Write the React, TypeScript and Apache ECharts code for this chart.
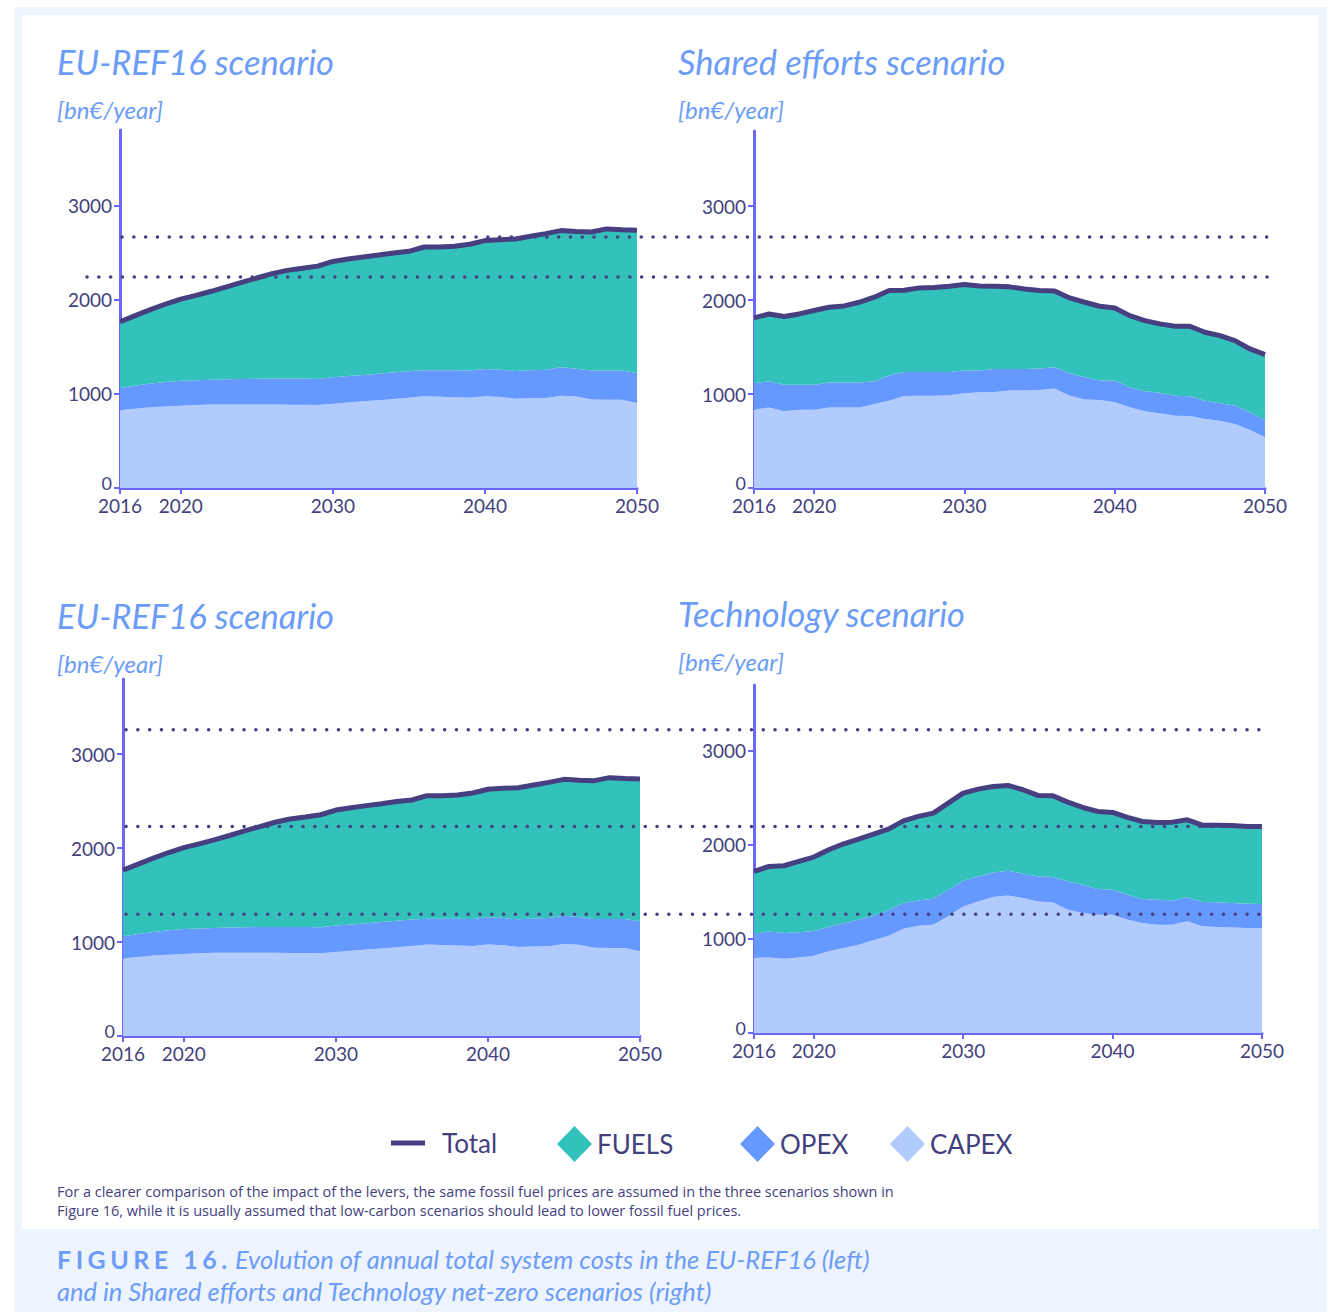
import React, { useEffect, useRef } from "react";
import * as echarts from "echarts";

const years = ["2016","2017","2018","2019","2020","2021","2022","2023","2024","2025","2026","2027","2028","2029","2030","2031","2032","2033","2034","2035","2036","2037","2038","2039","2040","2041","2042","2043","2044","2045","2046","2047","2048","2049","2050"];
const tickYears = ["2016", "2020", "2030", "2040", "2050"];
const yTicks = [0, 1000, 2000, 3000];

// EU-REF16 scenario
const refCapex = [824,840,856,866,874,880,885,885,885,885,885,884,883,881,895,908,920,932,945,958,973,968,962,959,973,966,948,952,955,980,970,940,938,938,902];
const refOpex = [238,245,252,259,265,265,265,269,272,275,276,277,278,276,280,280,280,282,283,282,276,281,287,287,290,289,294,298,301,301,297,306,308,308,319];
const refFuels = [703,745,785,828,866,900,938,980,1026,1069,1114,1149,1171,1198,1230,1242,1252,1259,1267,1272,1309,1309,1316,1341,1363,1381,1401,1422,1444,1451,1455,1472,1504,1496,1514];
const refTotal = [1765,1830,1893,1953,2005,2045,2088,2134,2183,2229,2275,2310,2332,2355,2405,2430,2452,2473,2495,2512,2558,2558,2565,2587,2626,2636,2643,2672,2700,2732,2722,2718,2750,2742,2735];

// Shared efforts scenario
const sharedCapex = [834,856,816,834,834,856,856,856,895,930,980,983,983,987,1008,1019,1022,1037,1037,1044,1058,983,941,937,912,859,816,795,770,767,735,717,682,618,540];
const sharedOpex = [281,280,284,266,266,266,266,266,241,270,255,252,252,248,242,231,245,230,230,227,227,238,237,206,231,213,213,220,213,209,195,185,195,188,184];
const sharedFuels = [695,717,725,753,789,802,816,855,895,902,870,895,898,913,915,901,881,874,852,831,813,802,799,792,774,763,753,732,739,746,728,720,692,674,696];
const sharedTotal = [1810,1853,1825,1853,1889,1924,1938,1977,2031,2102,2105,2130,2133,2148,2165,2151,2148,2141,2119,2102,2098,2023,1977,1935,1917,1835,1782,1747,1722,1722,1658,1622,1569,1480,1420];

// Technology scenario
const techCapex = [797,804,790,804,822,868,903,939,985,1034,1109,1141,1151,1240,1346,1399,1445,1463,1435,1399,1389,1311,1275,1258,1258,1204,1169,1151,1151,1187,1134,1126,1123,1116,1116];
const techOpex = [259,276,273,266,262,258,266,265,262,270,273,269,277,283,273,266,262,262,258,266,269,301,301,272,265,266,255,266,259,255,258,263,259,258,255];
const techFuels = [662,691,715,754,786,822,843,858,868,864,874,893,910,921,931,928,914,907,893,861,864,843,822,826,822,822,825,822,832,825,818,821,825,822,825];
const techTotal = [1718,1771,1778,1824,1870,1948,2012,2062,2115,2168,2256,2303,2338,2444,2550,2593,2621,2632,2586,2526,2522,2455,2398,2356,2345,2292,2249,2239,2242,2267,2210,2210,2207,2196,2196];

// Dotted reference levels [bn€/year]
const topRefLevels = [2665, 2240];
const bottomRefLevels = [3260, 2230, 1295];

const panelTitles = ["EU-REF16 scenario", "Shared efforts scenario", "EU-REF16 scenario", "Technology scenario"];
const unitLabel = "[bn€/year]";
const seriesNames = ["CAPEX", "OPEX", "FUELS", "Total"];
const footnoteLines = [
  "For a clearer comparison of the impact of the levers, the same fossil fuel prices are assumed in the three scenarios shown in",
  "Figure 16, while it is usually assumed that low-carbon scenarios should lead to lower fossil fuel prices.",
];
const captionLabel = "FIGURE 16.";
const captionLines = [
  "Evolution of annual total system costs in the EU-REF16 (left)",
  "and in Shared efforts and Technology net-zero scenarios (right)",
];

const C_CAPEX = "#b1cbfd";
const C_OPEX = "#6699fe";
const C_FUELS = "#33c1bc";
const C_TOTAL = "#463f80";
const C_AXIS = "#6c68f7";
const C_TEXT = "#433f7e";
const C_BLUE = "#6b9df8";
const C_FRAME = "#eef4fe";
const FONT = "Lato";

const panels = [
  { capex: refCapex, opex: refOpex, fuels: refFuels, total: refTotal },
  { capex: sharedCapex, opex: sharedOpex, fuels: sharedFuels, total: sharedTotal },
  { capex: refCapex, opex: refOpex, fuels: refFuels, total: refTotal },
  { capex: techCapex, opex: techOpex, fuels: techFuels, total: techTotal },
];

const grids = [
  { left: 120, top: 130, width: 517, height: 358 },
  { left: 754, top: 131, width: 511, height: 357 },
  { left: 123, top: 679, width: 517, height: 357 },
  { left: 754, top: 685, width: 508, height: 348 },
];
const yMax = [3800, 3800, 3800, 3700];
const titlePos = [
  { left: 57, top: 44, unitTop: 97 },
  { left: 678, top: 44, unitTop: 97 },
  { left: 57, top: 598, unitTop: 651 },
  { left: 678, top: 596, unitTop: 649 },
];

export default function App() {
  const ref = useRef<HTMLDivElement>(null);

  useEffect(() => {
    if (!ref.current) return;
    const chart = echarts.init(ref.current, undefined, { renderer: "svg" });
    const showTick = (_i: number, v: string) => tickYears.includes(v);

    const xAxis = grids.map((_, i) => ({
      type: "category",
      gridIndex: i,
      data: years,
      boundaryGap: false,
      axisLine: { show: true, lineStyle: { color: C_AXIS, width: 3 } },
      axisTick: { show: true, interval: showTick, length: 6, lineStyle: { color: C_AXIS, width: 2 } },
      axisLabel: { interval: showTick, color: C_TEXT, fontSize: 19, fontFamily: FONT, margin: 8 },
      splitLine: { show: false },
    }));
    const yAxis = grids.map((_, i) => ({
      type: "value",
      gridIndex: i,
      min: 0,
      max: yMax[i],
      axisLine: { show: true, onZero: false, lineStyle: { color: C_AXIS, width: 3 } },
      axisTick: { show: true, customValues: yTicks, length: 6, lineStyle: { color: C_AXIS, width: 2 } },
      axisLabel: {
        customValues: yTicks, color: C_TEXT, fontSize: 19, fontFamily: FONT, margin: 8,
        formatter: (v: number) => (v === 0 ? "{z|0}" : String(v)),
        rich: { z: { fontSize: 18, fontFamily: FONT, color: C_TEXT, lineHeight: 16, padding: [0, 0, 10, 0] } },
      },
      splitLine: { show: false },
    }));

    const series: any[] = [];
    panels.forEach((p, i) => {
      const area = (name: string, data: number[], color: string) => ({
        type: "line",
        name,
        xAxisIndex: i,
        yAxisIndex: i,
        stack: "s" + i,
        data,
        symbol: "none",
        silent: true,
        lineStyle: { width: 0, opacity: 0 },
        itemStyle: { color },
        areaStyle: { color, opacity: 1 },
      });
      series.push(area(seriesNames[0], p.capex, C_CAPEX));
      series.push(area(seriesNames[1], p.opex, C_OPEX));
      series.push(area(seriesNames[2], p.fuels, C_FUELS));
      series.push({
        type: "line",
        name: seriesNames[3],
        xAxisIndex: i,
        yAxisIndex: i,
        data: p.total,
        symbol: "none",
        silent: true,
        lineStyle: { width: 5, color: C_TOTAL },
        itemStyle: { color: C_TOTAL },
        z: 3,
      });
    });

    const titles: any[] = [];
    panelTitles.forEach((t, i) => {
      titles.push({
        text: t, left: titlePos[i].left, top: titlePos[i].top, padding: 0,
        textStyle: { fontFamily: FONT, fontStyle: "italic", fontWeight: "normal", fontSize: 34.5, color: C_BLUE },
      });
      titles.push({
        text: unitLabel, left: titlePos[i].left, top: titlePos[i].unitTop, padding: 0,
        textStyle: { fontFamily: FONT, fontStyle: "italic", fontWeight: "normal", fontSize: 24, color: C_BLUE },
      });
    });

    const legendText = { fontSize: 26, color: C_TEXT, fontFamily: FONT };
    const legend = [
      { data: [{ name: "Total", icon: "rect", itemStyle: { color: C_TOTAL } }], left: 391, top: 1130, itemWidth: 34, itemHeight: 5, padding: 0, selectedMode: false, textStyle: { ...legendText, padding: [0, 0, 0, 12] } },
      { data: [{ name: "FUELS", icon: "diamond", itemStyle: { color: C_FUELS } }], left: 557, top: 1126, itemWidth: 35, itemHeight: 36, padding: 0, selectedMode: false, textStyle: legendText },
      { data: [{ name: "OPEX", icon: "diamond", itemStyle: { color: C_OPEX } }], left: 740, top: 1126, itemWidth: 35, itemHeight: 36, padding: 0, selectedMode: false, textStyle: legendText },
      { data: [{ name: "CAPEX", icon: "diamond", itemStyle: { color: C_CAPEX } }], left: 890, top: 1126, itemWidth: 35, itemHeight: 36, padding: 0, selectedMode: false, textStyle: legendText },
    ];

    chart.setOption({
      animation: false,
      backgroundColor: "#ffffff",
      title: titles,
      legend,
      grid: grids.map((g) => ({ ...g, containLabel: false })),
      xAxis,
      yAxis,
      series,
    });

    const yPix = (axisIdx: number, v: number) => chart.convertToPixel({ yAxisIndex: axisIdx } as any, v) as number;
    const dotStyle = { stroke: C_TOTAL, lineWidth: 3.5, lineDash: [0.1, 11.7], lineCap: "round" };
    const dotted: any[] = [];
    const topStarts = [122, 87];
    topRefLevels.forEach((v, k) => {
      const y = yPix(0, v);
      dotted.push({ type: "line", silent: true, z: 100, shape: { x1: topStarts[k], y1: y, x2: 1268, y2: y }, style: dotStyle });
    });
    bottomRefLevels.forEach((v) => {
      const y = yPix(2, v);
      dotted.push({ type: "line", silent: true, z: 100, shape: { x1: 126, y1: y, x2: 1268, y2: y }, style: dotStyle });
    });

    const graphic: any[] = [
      { type: "rect", silent: true, z: -100, shape: { x: 15, y: 7, width: 1312, height: 1305 }, style: { fill: C_FRAME } },
      { type: "rect", silent: true, z: -99, shape: { x: 22, y: 15, width: 1297, height: 1214 }, style: { fill: "#ffffff" } },
      ...dotted,
      { type: "text", silent: true, z: 100, x: 57, y: 1191, style: { text: footnoteLines[0], fill: C_TEXT, fontSize: 14.5, fontFamily: "Open Sans", verticalAlign: "middle" } },
      { type: "text", silent: true, z: 100, x: 57, y: 1210, style: { text: footnoteLines[1], fill: C_TEXT, fontSize: 14.5, fontFamily: "Open Sans", verticalAlign: "middle" } },
      { type: "text", silent: true, z: 100, x: 57, y: 1259, style: { text: captionLabel, fill: C_BLUE, fontSize: 25, fontWeight: "bold", fontFamily: FONT, verticalAlign: "middle" } },
      { type: "text", silent: true, z: 100, x: 235, y: 1259, style: { text: captionLines[0], fill: C_BLUE, fontSize: 25.5, fontStyle: "italic", fontFamily: FONT, verticalAlign: "middle" } },
      { type: "text", silent: true, z: 100, x: 57, y: 1291, style: { text: captionLines[1], fill: C_BLUE, fontSize: 25.5, fontStyle: "italic", fontFamily: FONT, verticalAlign: "middle" } },
    ];
    chart.setOption({ graphic });

    const spaceLetters = () => {
      ref.current?.querySelectorAll("text").forEach((t) => {
        if (t.textContent === captionLabel) t.setAttribute("letter-spacing", "4.5");
      });
    };
    spaceLetters();
    chart.on("finished", spaceLetters);

    return () => chart.dispose();
  }, []);

  return <div ref={ref} style={{ position: "absolute", left: 0, top: 0, width: 1334, height: 1312 }} />;
}
